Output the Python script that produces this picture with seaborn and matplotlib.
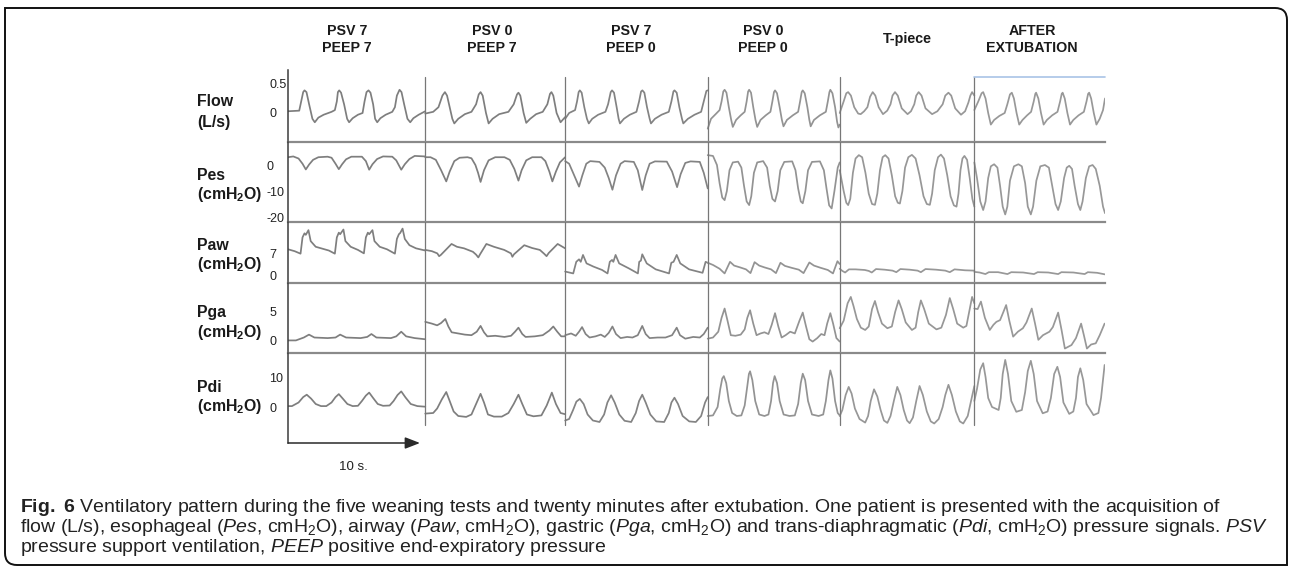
import numpy as np
import pandas as pd
import matplotlib
matplotlib.use("Agg")
import matplotlib.pyplot as plt
import seaborn as sns
from matplotlib.patches import PathPatch
from matplotlib.path import Path

# ---------------- data ----------------
CONDITIONS = ["PSV 7\nPEEP 7", "PSV 0\nPEEP 7", "PSV 7\nPEEP 0",
              "PSV 0\nPEEP 0", "T-piece", "AFTER\nEXTUBATION"]
SEG_DUR = [10.4, 10.6, 10.8, 10.0, 10.2, 9.9]          # seconds per condition
SIGNALS = ["Flow", "Pes", "Paw", "Pga", "Pdi"]
UNITS = ["(L/s)", r"(cmH$_\mathbf{2}$O)", r"(cmH$_\mathbf{2}$O)",
         r"(cmH$_\mathbf{2}$O)", r"(cmH$_\mathbf{2}$O)"]
TICKS = [[0.5, 0], [0, -10, -20], [7, 0], [5, 0], [10, 0]]
TICK_LABELS = [["0.5", "0"], ["0", "-10", "-20"], ["7", "0"], ["5", "0"], ["10", "0"]]
SCALE_BAR_S = 10
SCALE_LABEL = "10 s."

# Flow (L/s): (time s, value) per condition
flow_1 = [(0,.03),(0.85,.04),(1.0,.2),(1.15,.36),(1.25,.39),(1.4,.36),(1.6,.15),(1.85,-.1),(2.03,-.16),(2.3,-.08),(2.7,-.03),(3.3,.02),(3.55,.05),(3.7,.2),(3.78,.36),(3.88,.39),(4.02,.35),(4.25,.15),(4.48,-.1),(4.63,-.16),(4.9,-.09),(5.3,-.03),(5.65,0),(5.8,.2),(5.95,.36),(6.1,.39),(6.25,.35),(6.45,.15),(6.6,-.1),(6.76,-.16),(7.0,-.09),(7.4,-.03),(7.9,.02),(8.1,.1),(8.25,.3),(8.45,.4),(8.6,.36),(8.8,.15),(9.05,-.1),(9.26,-.16),(9.5,-.09),(9.9,-.03),(10.4,.03)]
flow_2 = [(0,-.01),(0.6,.02),(1.0,.1),(1.3,.3),(1.49,.36),(1.65,.3),(1.9,.05),(2.05,-.1),(2.2,-.18),(2.5,-.1),(3.0,-.02),(3.5,.02),(3.85,.15),(4.05,.32),(4.19,.36),(4.35,.3),(4.6,0),(4.8,-.18),(5.1,-.1),(5.6,-.02),(6.3,.02),(6.7,.15),(6.95,.32),(7.06,.35),(7.2,.3),(7.45,0),(7.65,-.17),(7.95,-.1),(8.4,-.02),(8.9,.02),(9.25,.15),(9.45,.33),(9.56,.36),(9.7,.3),(9.95,0),(10.25,-.16),(10.6,-.07)]
flow_3 = [(0,-.1),(0.3,0),(0.75,.05),(0.9,.2),(1.02,.36),(1.11,.39),(1.25,.35),(1.45,.1),(1.65,-.1),(1.79,-.18),(2.05,-.1),(2.5,-.03),(3.05,.02),(3.25,.15),(3.45,.36),(3.55,.39),(3.7,.35),(3.9,.1),(4.05,-.1),(4.15,-.18),(4.45,-.1),(4.9,-.03),(5.4,.02),(5.6,.2),(5.75,.37),(5.85,.39),(6.0,.35),(6.2,.1),(6.4,-.1),(6.5,-.18),(6.8,-.1),(7.3,-.03),(7.85,.02),(8.05,.2),(8.2,.37),(8.28,.39),(8.45,.35),(8.65,.1),(8.85,-.1),(8.95,-.18),(9.3,-.1),(9.8,-.03),(10.3,.02),(10.5,.2),(10.7,.38),(10.8,.39)]
flow_4 = [(0,-.27),(0.25,-.1),(0.6,-.02),(0.9,.05),(1.05,.2),(1.18,.37),(1.28,.4),(1.42,.35),(1.6,.1),(1.78,-.12),(1.9,-.24),(2.15,-.12),(2.5,-.04),(2.8,.02),(2.95,.2),(3.06,.37),(3.14,.4),(3.28,.35),(3.45,.1),(3.62,-.12),(3.75,-.24),(4.0,-.12),(4.4,-.04),(4.75,.02),(4.9,.2),(5.02,.36),(5.1,.39),(5.25,.34),(5.45,.1),(5.62,-.12),(5.74,-.23),(6.0,-.12),(6.45,-.04),(6.85,.02),(7.0,.2),(7.12,.36),(7.2,.39),(7.35,.34),(7.55,.1),(7.7,-.12),(7.8,-.23),(8.05,-.12),(8.5,-.04),(8.95,.02),(9.1,.2),(9.22,.36),(9.29,.4),(9.45,.34),(9.65,.1),(9.8,-.15),(9.9,-.25),(10.0,-.2)]
flow_5 = [(0,0),(0.3,.2),(0.5,.34),(0.64,.36),(0.85,.3),(1.1,.1),(1.4,-.01),(1.59,-.02),(1.85,.03),(2.1,.1),(2.3,.28),(2.5,.36),(2.7,.3),(2.95,.1),(3.28,-.02),(3.6,.04),(3.85,.15),(4.0,.3),(4.19,.36),(4.4,.3),(4.7,.08),(5.14,-.02),(5.4,.03),(5.65,.15),(5.8,.3),(5.98,.36),(6.2,.3),(6.5,.08),(7.0,-.02),(7.4,.03),(7.8,.15),(8.0,.3),(8.24,.35),(8.45,.3),(8.75,.08),(9.19,-.03),(9.5,.03),(9.75,.18),(9.9,.3),(10.03,.36),(10.2,.3)]
flow_6 = [(0,.05),(0.3,.2),(0.55,.34),(0.67,.36),(0.85,.25),(1.05,0),(1.25,-.2),(1.5,-.12),(1.9,-.05),(2.3,0),(2.5,.15),(2.7,.32),(2.84,.35),(3.0,.25),(3.2,0),(3.4,-.2),(3.65,-.12),(4.0,-.04),(4.3,.02),(4.5,.2),(4.62,.33),(4.68,.35),(4.85,.25),(5.05,0),(5.25,-.2),(5.5,-.12),(5.9,-.04),(6.3,.02),(6.5,.2),(6.62,.33),(6.69,.35),(6.85,.25),(7.05,0),(7.25,-.2),(7.5,-.12),(7.9,-.04),(8.3,.02),(8.5,.2),(8.62,.33),(8.7,.35),(8.85,.25),(9.05,0),(9.25,-.2),(9.5,-.1),(9.75,.05),(9.9,.25)]

# Pes (cmH2O)
pes_1 = [(0,3.0),(0.4,3.3),(0.8,2.5),(1.1,0.5),(1.35,-1.7),(1.6,0.2),(1.9,2.0),(2.3,3.0),(3.0,3.2),(3.3,2.8),(3.6,0.5),(3.85,-1.6),(4.1,0.3),(4.4,2.2),(4.8,3.2),(5.6,3.2),(5.9,1.5),(6.15,-1.8),(6.4,0.3),(6.75,2.3),(7.2,3.3),(7.9,3.2),(8.2,1.8),(8.58,-1.8),(8.85,0.3),(9.2,2.3),(9.6,3.5),(10.4,3.3)]
pes_2 = [(0,3.0),(0.4,3.0),(0.8,2.0),(1.2,-2.0),(1.59,-6.3),(1.85,-2.5),(2.2,1.5),(2.6,2.8),(3.2,3.0),(3.5,2.6),(3.8,0.0),(4.0,-3.0),(4.19,-6.5),(4.45,-2.0),(4.8,1.8),(5.3,3.0),(6.0,3.0),(6.4,2.0),(6.75,-1.5),(7.06,-6.0),(7.3,-2.0),(7.65,1.8),(8.1,3.0),(8.8,3.0),(9.1,1.5),(9.4,-2.5),(9.63,-6.3),(9.9,-2.5),(10.2,1.0),(10.6,3.0)]
pes_3 = [(0,1.5),(0.3,0.5),(0.6,-3.0),(1.05,-8.3),(1.3,-4),(1.6,0.5),(1.9,1.5),(2.6,1.2),(3.0,-1.0),(3.3,-5),(3.58,-9.5),(3.85,-4),(4.2,0.5),(4.5,1.5),(5.2,1.2),(5.5,-2),(5.84,-9.6),(6.1,-4),(6.4,0.5),(6.8,1.4),(7.7,1.3),(8.1,-2.5),(8.48,-8.5),(8.75,-3.5),(9.1,0.8),(9.5,1.4),(10.2,1.2),(10.5,-3),(10.8,-9.0)]
pes_4 = [(0,3.8),(0.4,3.5),(0.7,0.0),(0.9,-7),(1.1,-12.5),(1.28,-13.5),(1.45,-10),(1.65,-2),(1.9,1.0),(2.3,1.3),(2.55,-1),(2.75,-8),(2.95,-14),(3.14,-15.4),(3.3,-12),(3.5,-3),(3.75,1.0),(4.2,1.5),(4.5,-1),(4.7,-8),(4.9,-13),(5.1,-14),(5.3,-10),(5.5,-2),(5.8,1.2),(6.4,1.4),(6.65,-2),(6.85,-9),(7.05,-14),(7.2,-14.7),(7.4,-10),(7.6,-2),(7.9,1.2),(8.5,1.4),(8.8,-2),(9.0,-9),(9.2,-15.5),(9.39,-16.7),(9.6,-10),(9.85,-1),(10.0,1.0)]
pes_5 = [(0,-2),(0.3,-10),(0.5,-14.5),(0.64,-15.4),(0.8,-13),(1.0,-3),(1.2,2.5),(1.45,3.8),(1.7,3.0),(1.95,-3),(2.2,-11),(2.45,-15),(2.67,-15.3),(2.85,-11),(3.05,-2),(3.25,3.0),(3.45,3.8),(3.7,2.5),(3.95,-4),(4.2,-12),(4.4,-14.5),(4.56,-14.8),(4.75,-10),(4.95,-1),(5.2,3.0),(5.47,3.9),(5.75,2.5),(6.05,-4),(6.35,-12),(6.6,-15),(6.83,-15.3),(7.0,-11),(7.2,-2),(7.45,3.0),(7.67,4.0),(7.9,2.5),(8.15,-4),(8.4,-12),(8.65,-15.5),(8.85,-16),(9.0,-11),(9.15,-2),(9.3,2.5),(9.45,3.5),(9.65,2.0),(9.85,-5),(10.05,-13),(10.2,-16)]
pes_6 = [(0,1.0),(0.2,-5),(0.45,-14),(0.67,-17.3),(0.85,-14),(1.05,-5),(1.25,-0.5),(1.5,0.3),(1.75,-1),(1.95,-8),(2.15,-16),(2.34,-19),(2.5,-16),(2.7,-6),(3.0,-0.5),(3.34,0.3),(3.6,-0.5),(3.85,-7),(4.05,-16),(4.28,-19),(4.45,-16),(4.7,-6),(5.0,-0.5),(5.35,0.0),(5.65,-1),(5.9,-8),(6.15,-15),(6.35,-17.3),(6.55,-14),(6.8,-5),(7.0,-1),(7.19,-0.3),(7.4,-1.5),(7.6,-8),(7.85,-15),(8.03,-17.3),(8.2,-14),(8.45,-5),(8.7,-0.5),(8.96,0.0),(9.2,-1.5),(9.5,-8),(9.75,-16),(9.9,-18.5)]

# Paw (cmH2O)
paw_1 = [(0,8.2),(0.5,7.6),(0.95,6.8),(1.1,12.0),(1.25,13.3),(1.35,12.8),(1.55,14.3),(1.72,10.8),(2.1,9.0),(2.6,8.4),(3.1,7.8),(3.55,6.8),(3.7,12),(3.85,13.5),(3.95,13.0),(4.2,14.5),(4.35,10.8),(4.75,9.0),(5.3,8.0),(5.75,6.9),(5.9,12),(6.05,13.5),(6.15,13.0),(6.4,14.3),(6.55,10.8),(6.95,9.0),(7.5,8.2),(8.1,6.8),(8.25,11.5),(8.4,13.0),(8.5,13.4),(8.68,14.8),(8.85,11.5),(9.2,9.5),(9.7,8.5),(10.4,7.8)]
paw_2 = [(0,8.0),(0.5,7.6),(0.91,6.9),(1.05,6.0),(1.18,6.4),(1.99,9.9),(2.4,9.0),(2.94,8.5),(3.61,7.4),(3.85,6.5),(4.02,5.6),(4.15,6.6),(4.63,9.9),(5.2,9.0),(5.98,8.0),(6.49,6.9),(6.6,5.8),(6.72,6.6),(7.5,9.5),(8.1,8.6),(8.68,8.0),(9.0,6.8),(9.19,6.0),(9.35,7.0),(10.03,9.9),(10.6,8.5)]
paw_3 = [(0,1.1),(0.61,0.5),(0.84,4.2),(1.05,5.0),(1.18,4.2),(1.35,6.4),(1.62,3.7),(2.13,2.7),(2.8,1.6),(3.21,0.5),(3.38,4.2),(3.55,4.8),(3.65,4.2),(3.82,6.4),(4.09,3.7),(4.83,2.1),(5.51,0.5),(5.61,4.2),(5.74,4.6),(5.84,6.6),(6.18,3.7),(6.86,1.8),(7.87,0.5),(8.04,3.9),(8.21,4.2),(8.45,6.4),(8.72,3.7),(9.39,1.8),(10.41,0.7),(10.64,4.2),(10.8,3.9)]
paw_4 = [(0,3.9),(0.4,3.2),(0.9,2.0),(1.28,0.5),(1.69,4.2),(2.0,3.0),(2.47,2.4),(2.9,1.8),(3.24,0.6),(3.55,4.1),(3.9,3.0),(4.32,2.4),(4.8,1.8),(5.17,0.6),(5.51,3.9),(5.85,2.9),(6.35,2.3),(6.9,1.7),(7.26,0.6),(7.7,4.0),(8.05,3.0),(8.55,2.3),(9.1,1.6),(9.49,0.5),(9.83,4.4),(10.0,3.5)]
paw_5 = [(0,2.0),(0.2,1.3),(0.41,0.8),(0.7,1.8),(1.2,1.8),(1.9,1.6),(2.2,1.3),(2.43,0.8),(2.75,1.9),(3.4,1.7),(4.0,1.4),(4.29,0.9),(4.6,1.9),(5.3,1.7),(5.9,1.4),(6.15,0.9),(6.5,1.9),(7.3,1.7),(8.0,1.4),(8.34,0.9),(8.7,1.8),(9.5,1.5),(10.2,1.4)]
paw_6 = [(0,1.0),(0.4,0.8),(0.84,0.3),(1.1,0.9),(1.8,0.9),(2.51,0.3),(2.8,0.9),(3.7,0.8),(4.52,0.3),(4.8,0.9),(5.6,0.8),(6.35,0.3),(6.6,0.9),(7.5,0.8),(8.36,0.3),(8.6,0.9),(9.3,0.7),(9.9,0.2)]

# Pga (cmH2O)
pga_1 = [(0,0.1),(0.6,0.1),(1.2,0.6),(1.59,1.1),(2.0,0.6),(3.0,0.5),(3.6,0.6),(3.95,1.1),(4.4,0.6),(5.5,0.5),(6.0,0.7),(6.32,1.2),(6.7,0.6),(7.8,0.5),(8.2,0.8),(8.58,1.6),(8.95,0.8),(9.6,0.5),(10.4,0.3)]
pga_2 = [(0,3.3),(0.5,3.0),(0.9,2.7),(1.2,3.1),(1.52,3.8),(1.75,2.5),(2.0,1.5),(2.5,1.3),(3.0,1.1),(3.5,1.0),(3.9,1.6),(4.19,2.6),(4.45,1.5),(4.7,0.8),(5.3,0.9),(6.0,0.7),(6.5,0.9),(6.8,1.6),(7.06,2.3),(7.35,1.2),(7.6,0.7),(8.3,0.8),(8.9,1.0),(9.4,1.8),(9.7,2.5),(10.0,1.6),(10.3,0.8),(10.6,0.8)]
pga_3 = [(0,1.0),(0.45,1.3),(0.8,0.9),(1.05,1.6),(1.28,2.4),(1.55,1.2),(1.85,0.6),(2.3,0.8),(2.7,1.1),(3.0,0.7),(3.3,1.4),(3.58,2.5),(3.85,1.2),(4.2,0.5),(4.7,0.7),(5.1,0.6),(5.5,1.0),(5.84,2.6),(6.1,1.2),(6.4,0.5),(7.0,0.6),(7.6,0.6),(8.1,1.0),(8.45,2.3),(8.7,1.0),(9.1,0.4),(9.7,0.7),(10.2,0.6),(10.5,1.2),(10.8,2.3)]
pga_4 = [(0,0.4),(0.4,0.6),(0.8,1.6),(1.05,4.0),(1.28,5.6),(1.5,3.5),(1.75,1.0),(2.1,0.9),(2.5,1.1),(2.8,2.0),(3.0,4.0),(3.21,5.3),(3.45,3.0),(3.7,1.0),(4.0,1.3),(4.3,1.5),(4.6,1.2),(4.85,2.8),(5.1,4.8),(5.35,2.5),(5.6,0.6),(5.9,1.0),(6.25,1.6),(6.6,1.3),(6.95,3.5),(7.2,4.9),(7.45,2.5),(7.7,0.3),(7.95,-0.1),(8.3,0.5),(8.6,1.2),(8.85,1.0),(9.05,3.0),(9.29,4.8),(9.5,3.0),(9.75,0.5),(10.0,-0.1)]
pga_5 = [(0,2.2),(0.3,3.5),(0.6,6.5),(0.84,7.6),(1.05,6.0),(1.3,3.8),(1.6,2.3),(1.93,1.9),(2.2,2.5),(2.45,5.5),(2.67,6.9),(2.9,5.0),(3.2,3.0),(3.61,2.2),(3.95,2.5),(4.2,5.0),(4.46,7.0),(4.7,5.5),(5.0,3.2),(5.47,1.9),(5.75,2.3),(5.95,5.0),(6.15,7.0),(6.4,5.5),(6.75,3.0),(7.33,2.0),(7.7,2.3),(8.05,4.5),(8.34,7.4),(8.6,5.5),(8.9,3.0),(9.36,2.3),(9.6,2.6),(9.85,5.5),(10.03,7.6),(10.2,6.5)]
pga_6 = [(0,5.6),(0.25,5.5),(0.5,6.8),(0.8,4.0),(1.17,1.9),(1.45,2.8),(1.67,3.3),(1.95,3.6),(2.2,5.0),(2.41,6.2),(2.65,3.5),(2.94,0.75),(3.3,1.6),(3.68,2.2),(3.95,3.2),(4.35,5.6),(4.6,3.0),(4.85,0.2),(5.2,1.0),(5.69,1.6),(5.95,2.4),(6.35,4.9),(6.6,2.0),(6.86,-1.3),(7.36,-0.7),(7.7,0.5),(8.09,3.0),(8.3,1.0),(8.53,-1.3),(8.85,-0.6),(9.2,-0.4),(9.5,1.0),(9.87,3.0)]

# Pdi (cmH2O)
pdi_1 = [(0,0.3),(0.3,0.3),(0.8,1.5),(1.15,3.3),(1.42,4.1),(1.75,2.8),(2.1,1.0),(2.5,0.3),(2.9,0.3),(3.3,1.5),(3.6,3.3),(3.85,4.3),(4.15,2.8),(4.5,1.0),(4.9,0.3),(5.3,0.4),(5.6,2.0),(5.9,3.8),(6.15,4.8),(6.45,3.0),(6.8,1.0),(7.2,0.4),(7.7,0.5),(8.0,2.0),(8.3,4.0),(8.58,5.2),(8.9,3.2),(9.3,1.0),(9.8,0.3),(10.4,0.1)]
pdi_2 = [(0,-2.2),(0.6,-2.0),(0.9,-0.5),(1.25,2.5),(1.59,5.0),(1.85,2.0),(2.15,-1.5),(2.5,-3.0),(3.1,-3.3),(3.5,-2.5),(3.8,0.5),(4.19,4.4),(4.45,1.5),(4.75,-2.5),(5.2,-3.2),(5.8,-3.2),(6.3,-2.0),(6.7,1.0),(7.06,4.1),(7.35,1.0),(7.7,-2.5),(8.2,-3.1),(8.8,-2.8),(9.2,0.5),(9.59,4.8),(9.9,1.0),(10.25,-2.0),(10.6,-2.4)]
pdi_3 = [(0,-4.5),(0.3,-4.0),(0.6,-1.0),(0.85,1.8),(1.11,2.7),(1.4,1.0),(1.7,-2.5),(2.1,-4.5),(2.6,-5.0),(2.95,-2.5),(3.2,1.5),(3.48,3.9),(3.75,1.5),(4.1,-2.5),(4.5,-4.6),(5.0,-5.0),(5.35,-2.0),(5.6,2.0),(5.84,4.1),(6.1,1.5),(6.45,-2.5),(6.9,-4.8),(7.5,-5.0),(7.85,-2.0),(8.05,1.5),(8.28,3.1),(8.55,1.0),(8.9,-3.0),(9.4,-4.8),(9.9,-5.0),(10.3,-3.0),(10.6,1.5),(10.8,3.3)]
pdi_4 = [(0,-3.0),(0.4,-2.8),(0.75,0.0),(0.95,6.0),(1.1,9.5),(1.22,10.3),(1.4,8.0),(1.6,2.0),(1.85,-2.0),(2.2,-3.0),(2.55,-2.8),(2.8,0.5),(3.0,7.0),(3.12,11.0),(3.21,11.9),(3.38,9.0),(3.6,2.0),(3.9,-2.5),(4.3,-3.0),(4.6,-2.5),(4.8,2.0),(4.95,8.0),(5.07,10.3),(5.25,8.0),(5.45,2.0),(5.75,-2.5),(6.2,-3.0),(6.6,-2.8),(6.85,1.0),(7.05,8.0),(7.2,11.1),(7.38,9.0),(7.6,2.0),(7.9,-2.5),(8.4,-3.0),(8.75,-2.5),(8.95,2.0),(9.15,9.0),(9.29,12.2),(9.45,9.5),(9.65,2.0),(9.85,-2.0),(10.0,-2.8)]
pdi_5 = [(0,-3.0),(0.2,-1.0),(0.45,4.0),(0.68,6.7),(0.9,4.5),(1.15,-0.5),(1.5,-4.0),(1.93,-5.2),(2.15,-3.0),(2.35,2.0),(2.6,5.9),(2.85,3.5),(3.1,-1.0),(3.35,-4.5),(3.61,-5.3),(3.85,-3.0),(4.1,2.0),(4.36,6.7),(4.6,4.0),(4.85,-1.0),(5.1,-4.5),(5.3,-5.4),(5.55,-3.5),(5.8,2.0),(6.05,7.0),(6.3,4.0),(6.6,-1.5),(6.9,-4.8),(7.16,-5.5),(7.5,-4.0),(7.8,0.0),(8.0,4.0),(8.24,7.4),(8.5,4.0),(8.8,-1.5),(9.1,-4.8),(9.36,-5.5),(9.7,-3.0),(9.95,2.0),(10.2,7.0)]
pdi_6 = [(0,2.0),(0.2,6.0),(0.45,12.5),(0.67,14.6),(0.85,10.0),(1.05,3.0),(1.34,0.0),(1.84,-1.0),(2.0,3.0),(2.15,11.0),(2.34,15.7),(2.55,11.0),(2.8,2.0),(3.18,-1.6),(3.6,-1.0),(3.85,5.0),(4.05,12.0),(4.28,15.4),(4.5,11.0),(4.75,2.0),(5.18,-2.1),(5.55,-1.5),(5.8,3.0),(6.05,11.0),(6.29,13.4),(6.5,10.0),(6.75,1.5),(7.19,-2.3),(7.5,-1.5),(7.7,3.0),(7.85,10.0),(8.03,12.9),(8.25,9.0),(8.5,1.0),(9.03,-2.7),(9.4,-2.0),(9.6,3.0),(9.87,14.0)]

TRACES = {
    "Flow": [flow_1, flow_2, flow_3, flow_4, flow_5, flow_6],
    "Pes": [pes_1, pes_2, pes_3, pes_4, pes_5, pes_6],
    "Paw": [paw_1, paw_2, paw_3, paw_4, paw_5, paw_6],
    "Pga": [pga_1, pga_2, pga_3, pga_4, pga_5, pga_6],
    "Pdi": [pdi_1, pdi_2, pdi_3, pdi_4, pdi_5, pdi_6],
}

CAPTION = [
    r"$\mathbf{Fig.\ 6}$ Ventilatory pattern during the five weaning tests and twenty minutes after extubation. One patient is presented with the acquisition of",
    r"flow (L/s), esophageal ($\mathit{Pes}$, cmH$_2$O), airway ($\mathit{Paw}$, cmH$_2$O), gastric ($\mathit{Pga}$, cmH$_2$O) and trans-diaphragmatic ($\mathit{Pdi}$, cmH$_2$O) pressure signals. $\mathit{PSV}$",
    r"pressure support ventilation, $\mathit{PEEP}$ positive end-expiratory pressure",
]

# ---------------- style / layout ----------------
sns.set_style("white")
plt.rcParams["font.family"] = ["Liberation Sans", "DejaVu Sans"]
plt.rcParams["mathtext.fontset"] = "custom"
plt.rcParams["mathtext.rm"] = "Liberation Sans"
plt.rcParams["mathtext.it"] = "Liberation Sans:italic"
plt.rcParams["mathtext.bf"] = "Liberation Sans:bold"

W, H = 1292, 569
fig = plt.figure(figsize=(W / 100, H / 100), dpi=100)

def fx(x):
    return x / W

def fy(y):
    return 1 - y / H

X0, X1 = 288, 1105                       # plot area, pixels
ROW_PX = [(70, 142), (142, 222), (222, 283), (283, 353), (353, 443)]
YLIMS = [(-0.5, 0.741), (-21.9, 8.85), (-2.55, 16.9), (-2.07, 10.0), (-12.0, 18.0)]
LABEL_Y = [(102, 122), (175, 194), (245, 264), (313, 333), (388, 407)]
TICK_PAD = [13.5, 15.5, 13.5, 13.5, 13.5]

offsets = np.concatenate([[0], np.cumsum(SEG_DUR)])
t_end = offsets[-1]
seg_colors = ["#7e7e7e", "#7e7e7e", "#838383", "#939393", "#979797", "#989898"]

axes = []
for i, sig in enumerate(SIGNALS):
    y0, y1 = ROW_PX[i]
    ax = fig.add_axes([fx(X0), fy(y1), fx(X1) - fx(X0), (y1 - y0) / H])
    ax.set_facecolor("none")
    for k, pts in enumerate(TRACES[sig]):
        df = pd.DataFrame(pts, columns=["t", "v"])
        df["t"] = df["t"] + offsets[k]
        sns.lineplot(data=df, x="t", y="v", ax=ax, color=seg_colors[k],
                     linewidth=1.25, estimator=None, sort=False, legend=False)
    ax.set_xlim(0, t_end)
    ax.set_ylim(*YLIMS[i])
    ax.set_xlabel("")
    ax.set_ylabel("")
    ax.set_xticks([])
    ax.set_yticks(TICKS[i])
    ax.set_yticklabels(TICK_LABELS[i])
    ax.tick_params(axis="y", length=0, pad=TICK_PAD[i], labelsize=9,
                   labelcolor="#222222")
    for lbl in ax.get_yticklabels():
        lbl.set_horizontalalignment("left")
    for s in ["top", "right"]:
        ax.spines[s].set_visible(False)
    ax.spines["left"].set_color("#3c3c3c")
    ax.spines["left"].set_linewidth(1.1)
    if i < 4:
        ax.spines["bottom"].set_color("#8a8a8a")
        ax.spines["bottom"].set_linewidth(1.6)
    else:
        ax.spines["bottom"].set_visible(False)
    # condition boundaries
    ymin, ymax = 0.0, 1.0
    if i == 0:
        ymax = (y1 - 77) / (y1 - y0)
    if i == 4:
        ymin = (y1 - 425) / (y1 - y0)
    for b in offsets[1:-1]:
        ax.axvline(b, ymin=ymin, ymax=ymax, color="#777777", lw=0.9)
    axes.append(ax)

    # row labels
    ly1, ly2 = LABEL_Y[i]
    fig.text(fx(197), fy(ly1), sig, fontsize=11.4, fontweight="bold",
             ha="left", va="center", color="#1a1a1a")
    fig.text(fx(197), fy(ly2), UNITS[i], fontsize=11.4, fontweight="bold",
             ha="left", va="center", color="#1a1a1a")

# light blue top line above the last condition (flow row)
ax0 = axes[0]
y_blue = YLIMS[0][1] - (77 - 70) / (142 - 70) * (YLIMS[0][1] - YLIMS[0][0])
ax0.plot([offsets[5], t_end], [y_blue, y_blue], color="#a9c3e6", lw=1.2, clip_on=False)

# 10 s scale arrow at the bottom of the Pdi row
axp = axes[4]
axp.annotate("", xy=(SCALE_BAR_S, YLIMS[4][0]), xytext=(0, YLIMS[4][0]),
             arrowprops=dict(arrowstyle="-|>,head_length=0.9,head_width=0.35",
                             color="#2a2a2a", lw=1.1, shrinkA=0, shrinkB=0),
             annotation_clip=False)
fig.text(fx(353), fy(467), SCALE_LABEL, fontsize=9.5, ha="center", va="center",
         color="#222222")

# condition headers
HEAD_X = [347, 492, 631, 763, 907, 1032]
for cx, lab in zip(HEAD_X, CONDITIONS):
    fig.text(fx(cx), fy(39.5), lab, fontsize=10.3, fontweight="bold",
             ha="center", va="center", linespacing=1.2, color="#1a1a1a")

# frame (rounded top-right and bottom-left corners)
L, R, T, B, r = 5, 1287, 8, 565, 12
verts = [(L, T), (R - r, T), (R, T), (R, T + r), (R, B), (L + r, B), (L, B),
         (L, B - r), (L, T)]
codes = [Path.MOVETO, Path.LINETO, Path.CURVE3, Path.CURVE3, Path.LINETO,
         Path.LINETO, Path.CURVE3, Path.CURVE3, Path.CLOSEPOLY]
verts = [(fx(x), fy(y)) for x, y in verts]
fig.patches.append(PathPatch(Path(verts, codes), transform=fig.transFigure,
                             fill=False, edgecolor="#111111", lw=1.4))

# caption
cap_y = [507, 527, 547]
caps = [fig.text(fx(20), fy(y), s, fontsize=10, ha="left", va="center",
                 color="#222222") for y, s in zip(cap_y, CAPTION)]
fig.canvas.draw()
rend = fig.canvas.get_renderer()
w2 = caps[1].get_window_extent(rend).width
fs = 10 * 1246 / w2
for c in caps:
    c.set_fontsize(fs)

fig.savefig("out.png", dpi=100)
